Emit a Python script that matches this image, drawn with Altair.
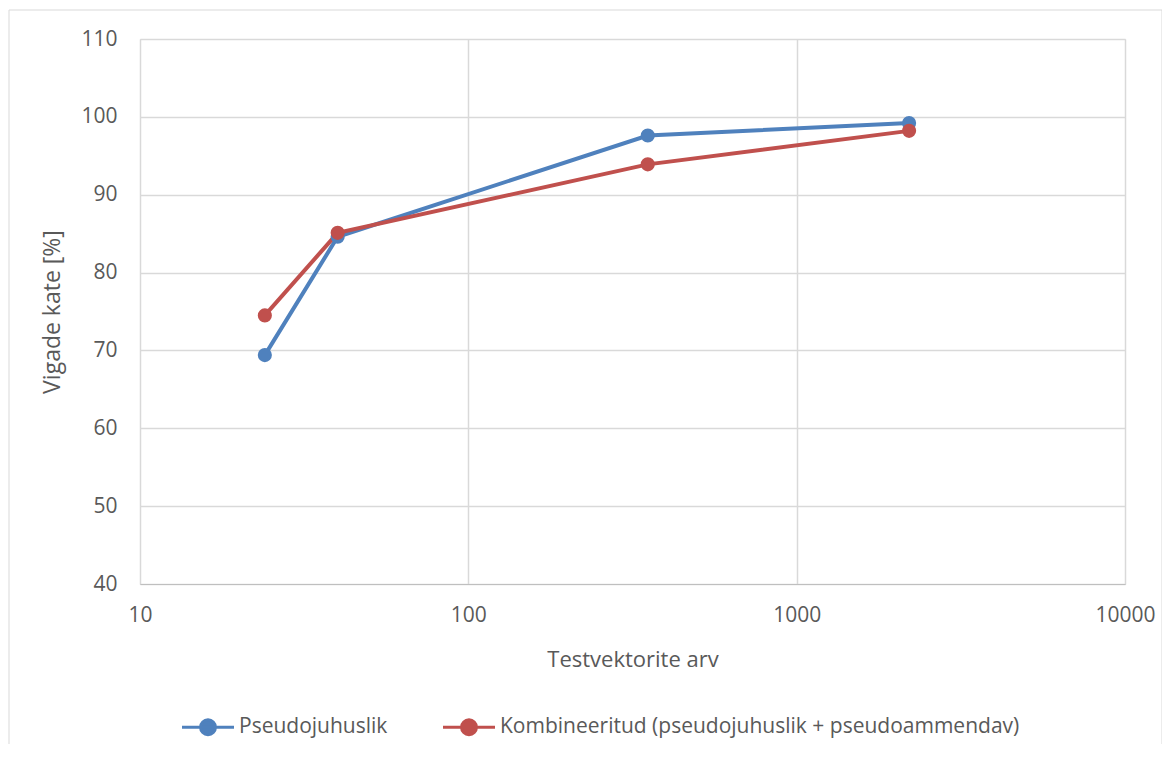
import altair as alt
import pandas as pd

series_names = ["Pseudojuhuslik", "Kombineeritud (pseudojuhuslik + pseudoammendav)"]
x_vectors = [24, 40, 352, 2200]
blue_values = [69.4, 84.6, 97.6, 99.2]
red_values = [74.5, 85.1, 93.9, 98.2]
colors = ["#4f81bd", "#c0504d"]

rows = []
for xv, bv in zip(x_vectors, blue_values):
    rows.append({"x": xv, "y": bv, "s": series_names[0]})
for xv, rv in zip(x_vectors, red_values):
    rows.append({"x": xv, "y": rv, "s": series_names[1]})
df = pd.DataFrame(rows)

FONT = "Open Sans"
TXT = "#595959"

sym = "M -1.6 0 L 1.6 0 M 0.46 0 A 0.46 0.46 0 1 1 -0.46 0 A 0.46 0.46 0 1 1 0.46 0 Z"

color = alt.Color(
    "s:N",
    scale=alt.Scale(domain=series_names, range=colors),
    legend=alt.Legend(
        title=None,
        orient="none",
        legendX=50,
        legendY=670,
        direction="horizontal",
        symbolType=sym,
        symbolSize=1056,
        symbolStrokeWidth=3,
        labelFont=FONT,
        labelFontSize=21,
        labelColor=TXT,
        labelLimit=800,
        columnPadding=49,
        labelOffset=13,
    ),
)

x = alt.X(
    "x:Q",
    scale=alt.Scale(type="log", domain=[10, 10000]),
    axis=alt.Axis(
        values=[10, 100, 1000, 10000],
        format="d",
        title="Testvektorite arv",
        titleFont=FONT,
        titleFontSize=22,
        titleFontWeight="normal",
        titleColor=TXT,
        titlePadding=24,
        labelFont=FONT,
        labelFontSize=21,
        labelColor=TXT,
        labelPadding=20,
        labelFlush=False,
        ticks=False,
        domainColor="#bfbfbf",
        gridColor="#d9d9d9",
        gridWidth=1.5,
    ),
)
y = alt.Y(
    "y:Q",
    scale=alt.Scale(domain=[40, 110]),
    axis=alt.Axis(
        values=[40, 50, 60, 70, 80, 90, 100, 110],
        title="Vigade kate [%]",
        titleFont=FONT,
        titleFontSize=23,
        titleFontWeight="normal",
        titleColor=TXT,
        titlePadding=16,
        labelFont=FONT,
        labelFontSize=21,
        labelColor=TXT,
        labelPadding=23,
        ticks=False,
        domain=False,
        gridColor="#d9d9d9",
        gridWidth=1.5,
    ),
)

line = alt.Chart(df).mark_line(strokeWidth=4).encode(x=x, y=y, color=color, detail="s:N")
pts = alt.Chart(df).mark_circle(size=200, opacity=1).encode(
    x=x, y=y,
    color=alt.Color("s:N", scale=alt.Scale(domain=series_names, range=colors), legend=None),
)

frame = alt.Chart(pd.DataFrame({"a": [0]})).mark_rect(fill=None, stroke="#d9d9d9", strokeWidth=1).encode(
    x=alt.value(-131), x2=alt.value(1022), y=alt.value(-29), y2=alt.value(760)
)

chart = alt.layer(frame, line, pts).properties(
    width=985,
    height=545,
    autosize=alt.AutoSizeParams(type="none"),
    padding={"left": 132, "top": 31, "right": 37, "bottom": 160},
).configure_view(stroke=None).configure(background="white")

chart.save("out.html", embed_options={"renderer": "svg", "actions": False})
